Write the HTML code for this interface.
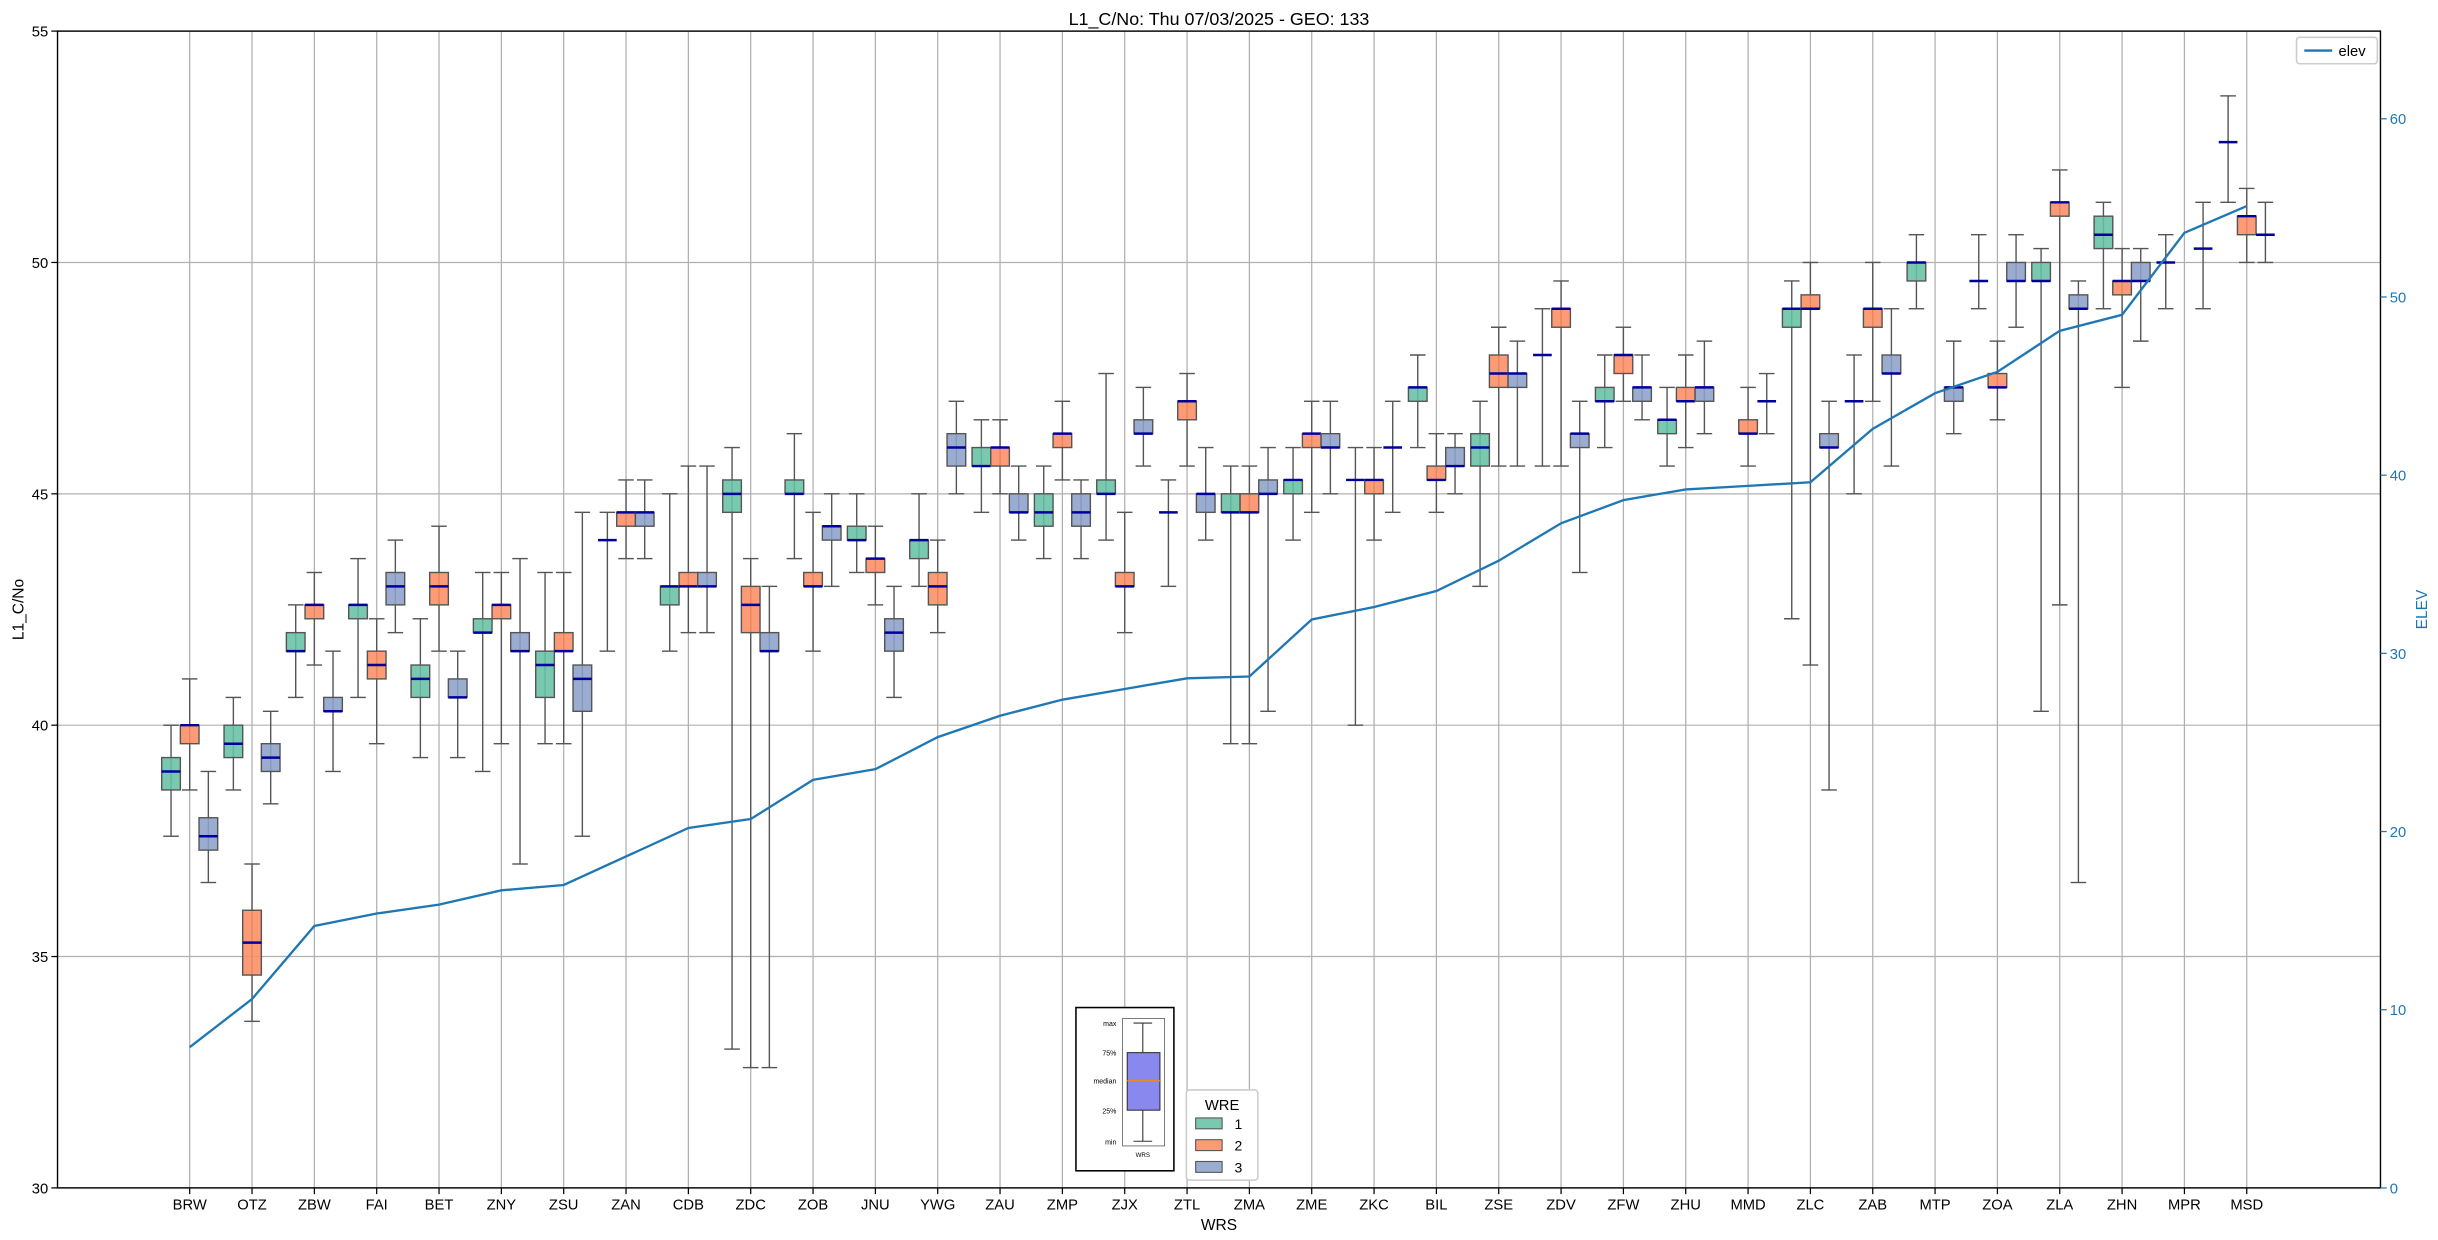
<!DOCTYPE html>
<html><head><meta charset="utf-8"><style>
html,body{margin:0;padding:0;background:#fff}
svg{display:block;font-family:"Liberation Sans",sans-serif}
</style></head><body>
<svg id="chart" width="2438" height="1240" viewBox="0 0 1568 797.5" xmlns="http://www.w3.org/2000/svg">
<rect x="0" y="0" width="1568" height="797.5" fill="#fff"/>
<g id="grid"></g>
<g id="boxes"></g>
<g id="elev"></g>
<g id="axes"></g>
<text x="784" y="16" text-anchor="middle" font-size="11.5">L1_C/No: Thu 07/03/2025 - GEO: 133</text>
<text x="784" y="791" text-anchor="middle" font-size="10">WRS</text>
<text transform="translate(15,392) rotate(-90)" text-anchor="middle" font-size="10">L1_C/No</text>
<text transform="translate(1561,392) rotate(-90)" text-anchor="middle" font-size="10" fill="#1f77b4">ELEV</text>
<g>
<rect x="1477" y="24" width="52" height="17" rx="2" fill="#fff" stroke="#ccc"/>
<line x1="1482" y1="32.5" x2="1500" y2="32.5" stroke="#1f77b4" stroke-width="1.5"/>
<text x="1504" y="36" font-size="9.5">elev</text>
</g>
<g>
<rect x="763" y="701" width="46" height="58" rx="2" fill="#fff" stroke="#ccc"/>
<text x="786" y="714" text-anchor="middle" font-size="9.5">WRE</text>
<rect x="769" y="719" width="17" height="7" fill="#66c2a5" fill-opacity="0.88" stroke="#555" stroke-width="0.7"/><text x="794" y="726" font-size="9">1</text>
<rect x="769" y="733" width="17" height="7" fill="#fc8d62" fill-opacity="0.88" stroke="#555" stroke-width="0.7"/><text x="794" y="740" font-size="9">2</text>
<rect x="769" y="747" width="17" height="7" fill="#8da0cb" fill-opacity="0.88" stroke="#555" stroke-width="0.7"/><text x="794" y="754" font-size="9">3</text>
</g>
<g>
<rect x="692" y="648" width="63" height="105" fill="#fff" stroke="#000" stroke-width="1"/>
<rect x="722" y="655" width="27" height="82" fill="#fff" stroke="#555" stroke-width="0.5"/>
<line x1="735" y1="658" x2="735" y2="734" stroke="#333" stroke-width="0.7"/>
<line x1="729" y1="658" x2="741" y2="658" stroke="#333" stroke-width="0.7"/>
<line x1="729" y1="734" x2="741" y2="734" stroke="#333" stroke-width="0.7"/>
<rect x="725" y="677" width="21" height="37" fill="#8888ee" stroke="#333" stroke-width="0.7"/>
<line x1="725" y1="695" x2="746" y2="695" stroke="#e88a2a" stroke-width="1"/>
<text x="718" y="660" font-size="4.5" text-anchor="end">max</text>
<text x="718" y="679" font-size="4.5" text-anchor="end">75%</text>
<text x="718" y="697" font-size="4.5" text-anchor="end">median</text>
<text x="718" y="716" font-size="4.5" text-anchor="end">25%</text>
<text x="718" y="736" font-size="4.5" text-anchor="end">min</text>
<text x="735" y="744" font-size="4" text-anchor="middle">WRS</text>
</g>
</svg>
<script>
const categories = ["BRW","OTZ","ZBW","FAI","BET","ZNY","ZSU","ZAN","CDB","ZDC","ZOB","JNU","YWG","ZAU","ZMP","ZJX","ZTL","ZMA","ZME","ZKC","BIL","ZSE","ZDV","ZFW","ZHU","MMD","ZLC","ZAB","MTP","ZOA","ZLA","ZHN","MPR","MSD"];
const elevValues = [7.9,10.6,14.7,15.4,15.9,16.7,17.0,18.6,20.2,20.7,22.9,23.5,25.3,26.5,27.4,28.0,28.6,28.7,31.9,32.6,33.5,35.2,37.3,38.6,39.2,39.4,39.6,42.6,44.6,45.8,48.1,49.0,53.6,55.1];
// [whiskerLow, q1, median, q3, whiskerHigh] per category
const wre1 = [[37.6,38.6,39.0,39.3,40.0],[38.6,39.3,39.6,40.0,40.6],[40.6,41.6,41.6,42.0,42.6],[40.6,42.3,42.6,42.6,43.6],[39.3,40.6,41.0,41.3,42.3],[39.0,42.0,42.0,42.3,43.3],[39.6,40.6,41.3,41.6,43.3],[41.6,44.0,44.0,44.0,44.6],[41.6,42.6,43.0,43.0,45.0],[33.0,44.6,45.0,45.3,46.0],[43.6,45.0,45.0,45.3,46.3],[43.3,44.0,44.0,44.3,45.0],[43.0,43.6,44.0,44.0,45.0],[44.6,45.6,45.6,46.0,46.6],[43.6,44.3,44.6,45.0,45.6],[44.0,45.0,45.0,45.3,47.6],[43.0,44.6,44.6,44.6,45.3],[39.6,44.6,44.6,45.0,45.6],[44.0,45.0,45.3,45.3,46.0],[40.0,45.3,45.3,45.3,46.0],[46.0,47.0,47.3,47.3,48.0],[43.0,45.6,46.0,46.3,47.0],[45.6,48.0,48.0,48.0,49.0],[46.0,47.0,47.0,47.3,48.0],[45.6,46.3,46.6,46.6,47.3],null,[42.3,48.6,49.0,49.0,49.6],[45.0,47.0,47.0,47.0,48.0],[49.0,49.6,50.0,50.0,50.6],[49.0,49.6,49.6,49.6,50.6],[40.3,49.6,49.6,50.0,50.3],[49.0,50.3,50.6,51.0,51.3],[49.0,50.0,50.0,50.0,50.6],[51.3,52.6,52.6,52.6,53.6]];
const wre2 = [[38.6,39.6,40.0,40.0,41.0],[33.6,34.6,35.3,36.0,37.0],[41.3,42.3,42.6,42.6,43.3],[39.6,41.0,41.3,41.6,42.3],[41.6,42.6,43.0,43.3,44.3],[39.6,42.3,42.6,42.6,43.3],[39.6,41.6,41.6,42.0,43.3],[43.6,44.3,44.6,44.6,45.3],[42.0,43.0,43.0,43.3,45.6],[32.6,42.0,42.6,43.0,43.6],[41.6,43.0,43.0,43.3,44.6],[42.6,43.3,43.6,43.6,44.3],[42.0,42.6,43.0,43.3,44.0],[45.0,45.6,46.0,46.0,46.6],[45.3,46.0,46.3,46.3,47.0],[42.0,43.0,43.0,43.3,44.6],[45.6,46.6,47.0,47.0,47.6],[39.6,44.6,44.6,45.0,45.6],[44.6,46.0,46.3,46.3,47.0],[44.0,45.0,45.3,45.3,46.0],[44.6,45.3,45.3,45.6,46.3],[45.6,47.3,47.6,48.0,48.6],[45.6,48.6,49.0,49.0,49.6],[47.0,47.6,48.0,48.0,48.6],[46.0,47.0,47.0,47.3,48.0],[45.6,46.3,46.3,46.6,47.3],[41.3,49.0,49.0,49.3,50.0],[47.0,48.6,49.0,49.0,50.0],null,[46.6,47.3,47.3,47.6,48.3],[42.6,51.0,51.3,51.3,52.0],[47.3,49.3,49.6,49.6,50.3],null,[50.0,50.6,51.0,51.0,51.6]];
const wre3 = [[36.6,37.3,37.6,38.0,39.0],[38.3,39.0,39.3,39.6,40.3],[39.0,40.3,40.3,40.6,41.6],[42.0,42.6,43.0,43.3,44.0],[39.3,40.6,40.6,41.0,41.6],[37.0,41.6,41.6,42.0,43.6],[37.6,40.3,41.0,41.3,44.6],[43.6,44.3,44.6,44.6,45.3],[42.0,43.0,43.0,43.3,45.6],[32.6,41.6,41.6,42.0,43.0],[43.0,44.0,44.3,44.3,45.0],[40.6,41.6,42.0,42.3,43.0],[45.0,45.6,46.0,46.3,47.0],[44.0,44.6,44.6,45.0,45.6],[43.6,44.3,44.6,45.0,45.3],[45.6,46.3,46.3,46.6,47.3],[44.0,44.6,45.0,45.0,46.0],[40.3,45.0,45.0,45.3,46.0],[45.0,46.0,46.0,46.3,47.0],[44.6,46.0,46.0,46.0,47.0],[45.0,45.6,45.6,46.0,46.3],[45.6,47.3,47.6,47.6,48.3],[43.3,46.0,46.3,46.3,47.0],[46.6,47.0,47.3,47.3,48.0],[46.3,47.0,47.3,47.3,48.3],[46.3,47.0,47.0,47.0,47.6],[38.6,46.0,46.0,46.3,47.0],[45.6,47.6,47.6,48.0,49.0],[46.3,47.0,47.3,47.3,48.3],[48.6,49.6,49.6,50.0,50.6],[36.6,49.0,49.0,49.3,49.6],[48.3,49.6,49.6,50.0,50.3],[49.0,50.3,50.3,50.3,51.3],[50.0,50.6,50.6,50.6,51.3]];
const leftTicks = [30,35,40,45,50,55];
const rightTicks = [0,10,20,30,40,50,60];

const NS="http://www.w3.org/2000/svg";
const L=37,R=1531,T=20,B=764;
const yL=v=>B-(v-30)/25*(B-T);
const yR=v=>B-v*11.46;
const xC=i=>122+i*(1445-122)/(categories.length-1);
function mk(parent,tag,attrs){const e=document.createElementNS(NS,tag);for(const k in attrs)e.setAttribute(k,attrs[k]);document.getElementById(parent).appendChild(e);return e;}

categories.forEach((c,i)=>{
  const g=mk('grid','line',{x1:xC(i),x2:xC(i),y1:T,y2:B,stroke:'#b0b0b0','stroke-width':0.8});
  
  
});
leftTicks.forEach(t=>{
  const g=mk('grid','line',{x1:L,x2:R,y1:yL(t),y2:yL(t),stroke:'#b0b0b0','stroke-width':0.8});
  
  
});

const series=[wre1,wre2,wre3],colors=['#66c2a5','#fc8d62','#8da0cb'],offs=[-12,0,12],bw=12;
series.forEach((s,si)=>{
  s.forEach((d,i)=>{
    if(!d)return;
    const cx=xC(i)+offs[si];
    const [lo,q1,md,q3,hi]=d;
    const w=mk('boxes','line',{x1:cx,x2:cx,y1:yL(lo),y2:yL(hi),stroke:'#555','stroke-width':0.9});
    
    
    [lo,hi].forEach(v=>{
      const c=mk('boxes','line',{x1:cx-5,x2:cx+5,y1:yL(v),y2:yL(v),stroke:'#555','stroke-width':0.9});
      
      
    });
    if(q3>q1){
      const b=mk('boxes','rect',{x:cx-bw/2,y:yL(q3),width:bw,height:yL(q1)-yL(q3),fill:colors[si],'fill-opacity':0.88,stroke:'#555','stroke-width':0.9});
      
      
    }
    const m=mk('boxes','line',{x1:cx-bw/2,x2:cx+bw/2,y1:yL(md),y2:yL(md),stroke:'#00009c','stroke-width':1.6});
    
    
  });
});

const pl=mk('elev','polyline',{points:elevValues.map((v,i)=>xC(i)+','+yR(v)).join(' '),fill:'none',stroke:'#1f77b4','stroke-width':1.5});



const fr=mk('axes','rect',{x:L,y:T,width:R-L,height:B-T,fill:'none',stroke:'#000','stroke-width':0.9});


leftTicks.forEach(t=>{
  mk('axes','line',{x1:L-4,x2:L,y1:yL(t),y2:yL(t),stroke:'#000','stroke-width':0.8});
  const tx=mk('axes','text',{x:L-6,y:yL(t)+3.5,'text-anchor':'end','font-size':9.5});
  tx.textContent=t;
  
  
});
rightTicks.forEach(t=>{
  mk('axes','line',{x1:R,x2:R+4,y1:yR(t),y2:yR(t),stroke:'#1f77b4','stroke-width':0.8});
  const tx=mk('axes','text',{x:R+6,y:yR(t)+3.5,'font-size':9.5,fill:'#1f77b4'});
  tx.textContent=t;
  
  
});
categories.forEach((c,i)=>{
  mk('axes','line',{x1:xC(i),x2:xC(i),y1:B,y2:B+4,stroke:'#000','stroke-width':0.8});
  const tx=mk('axes','text',{x:xC(i),y:B+14,'text-anchor':'middle','font-size':9.5});
  tx.textContent=c;
  
  
});
</script>
</body></html>
